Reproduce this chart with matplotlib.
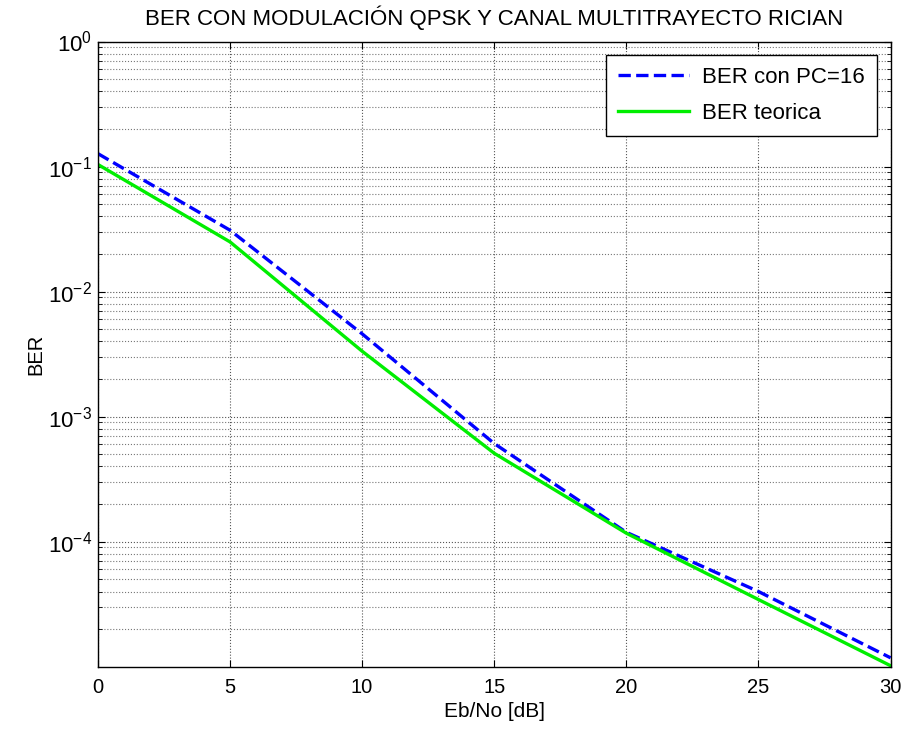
import numpy as np
import matplotlib
matplotlib.use("Agg")
import matplotlib.pyplot as plt
from matplotlib.ticker import FixedLocator, LogLocator, NullFormatter

plt.rcParams['font.family'] = ['Liberation Sans', 'DejaVu Sans']
plt.rcParams['mathtext.fontset'] = 'custom'
plt.rcParams['mathtext.rm'] = 'Liberation Sans'
plt.rcParams['mathtext.it'] = 'Liberation Sans'

# Eb/No values and BER curves
ebno = [0, 5, 10, 15, 20, 25, 30]
ber_pc16 = [0.127, 0.031, 0.0046, 6.1e-4, 1.19e-4, 4.0e-5, 1.18e-5]
ber_teorica = [0.104, 0.025, 0.00334, 5.1e-4, 1.17e-4, 3.45e-5, 1.02e-5]

ytick_vals = [1e-4, 1e-3, 1e-2, 1e-1, 1e0]
ytick_labels = ['$10^{-4}$', '$10^{-3}$', '$10^{-2}$', '$10^{-1}$', '$10^{0}$']
xtick_vals = [0, 5, 10, 15, 20, 25, 30]

fig = plt.figure(figsize=(9.06, 7.36), dpi=100)
ax = fig.add_axes([0.108, 0.094, 0.875, 0.8496])

ax.semilogy(ebno, ber_pc16, '--', color='#0000ff', lw=2.4, label='BER con PC=16')
ax.semilogy(ebno, ber_teorica, '-', color='#00ee00', lw=2.4, label='BER teorica')

ax.set_xlim(0, 30)
ax.set_ylim(1e-5, 1)
ax.set_xticks(xtick_vals)
ax.yaxis.set_major_locator(FixedLocator(ytick_vals))
ax.set_yticklabels(ytick_labels)
ax.yaxis.set_minor_locator(LogLocator(base=10, subs=np.arange(2, 10)))
ax.yaxis.set_minor_formatter(NullFormatter())

ax.tick_params(which='both', direction='in', top=True, right=True, labelsize=14.5)
ax.tick_params(axis='x', pad=8)
ax.tick_params(axis='y', labelsize=16, pad=4)
ax.tick_params(which='major', length=5)
ax.tick_params(which='minor', length=3)
ax.grid(True, which='major', linestyle=':', color='#555555', lw=0.8)
ax.grid(True, which='minor', axis='y', linestyle=':', color='#777777', lw=0.8)
for s in ax.spines.values():
    s.set_linewidth(1.0)

ax.set_title('BER CON MODULACIÓN QPSK Y CANAL MULTITRAYECTO RICIAN', fontsize=16, pad=12)
ax.set_xlabel('Eb/No [dB]', fontsize=15, labelpad=4)
ax.set_ylabel('BER', fontsize=14.5, labelpad=2)

leg = ax.legend(loc='upper right', fontsize=16, fancybox=False, framealpha=1,
                edgecolor='black', handlelength=3.2, handletextpad=0.6,
                labelspacing=0.65, borderaxespad=0.6, borderpad=0.55)
leg.get_frame().set_linewidth(1.0)

fig.savefig('out.png', dpi=100)
